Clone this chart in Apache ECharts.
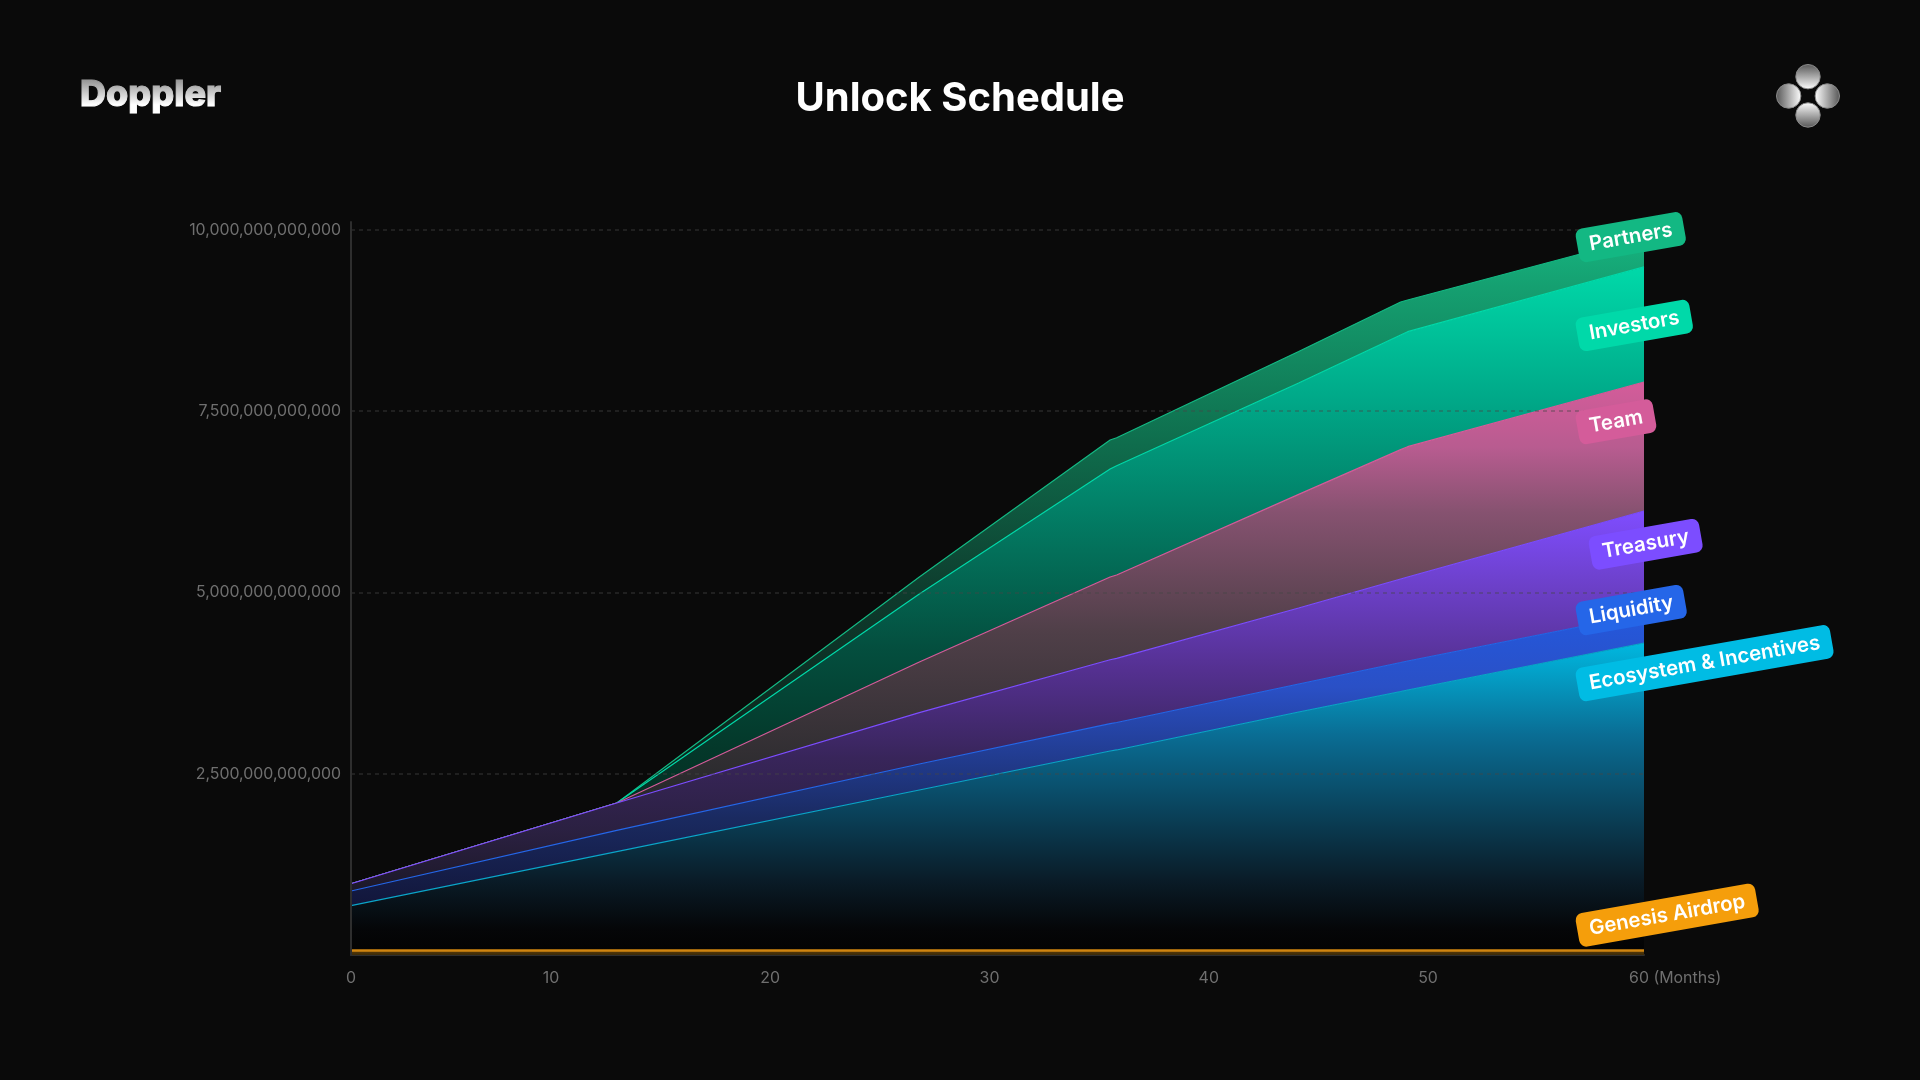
<!DOCTYPE html>
<html><head><meta charset="utf-8">
<style>html,body{margin:0;padding:0;background:#0a0a0a;width:100%;height:100%}#c{width:1920px;height:1080px}</style>
<script src="https://cdn.jsdelivr.net/npm/echarts@6/dist/echarts.min.js"></script>
</head><body><div id="c"></div>
<script>
const title = 'Unlock Schedule';
const brand = 'Doppler';
const xValues = [0.88, 13, 26.8, 35.5, 35.8, 44.1, 48.75, 49.07, 59.85];
const genesis = [0.062, 0.062, 0.062, 0.062, 0.062, 0.062, 0.062, 0.062, 0.062];
const ecosystem = [0.618, 1.364, 2.214, 2.752, 2.766, 3.29, 3.572, 3.593, 4.241];
const liquidity = [0.203, 0.293, 0.358, 0.378, 0.379, 0.386, 0.4, 0.4, 0.4];
const treasury = [0.1, 0.378, 0.708, 0.88, 0.884, 1.048, 1.152, 1.159, 1.421];
const team = [0, 0, 0.699, 1.142, 1.15, 1.567, 1.784, 1.797, 1.779];
const investors = [0, 0, 0.938, 1.489, 1.508, 1.537, 1.582, 1.586, 1.587];
const partners = [0, 0, 0.235, 0.4, 0.386, 0.433, 0.455, 0.437, 0.413];
const xTicks = [0.88, 10, 20, 30, 40, 50, 59.17];
const xTickLabels = ['0', '10', '20', '30', '40', '50', '60 (Months)'];
const yTicks = [2.5, 5, 7.5, 10];
const yTickLabels = ['2,500,000,000,000', '5,000,000,000,000', '7,500,000,000,000', '10,000,000,000,000'];

const FONT = 'Inter';
const grad = stops => ({type:'linear',x:0,y:0,x2:0,y2:1,colorStops:stops.map(s=>({offset:s[0],color:s[1]}))});
const defs = [
 {name:'Genesis Airdrop', data:genesis, color:'#F59E0B', line:'#D08510', width:2.5, off:[-66,-19],
  fill:grad([[0,'#5c3c08'],[1,'#3a2a0a']])},
 {name:'Ecosystem & Incentives', data:ecosystem, color:'#00BCE4', line:'#0BA5C9', width:1.2, off:[-66,43],
  fill:grad([[0,'#00B8E0'],[0.3,'#0a6d94'],[0.77,'#0a1c28'],[0.93,'#050608'],[1,'#030303']])},
 {name:'Liquidity', data:liquidity, color:'#2566E8', line:'#2566E8', width:1.2, off:[-66,6],
  fill:grad([[0,'#2458DC'],[0.25,'#2a50c6'],[0.7,'#1a2a60'],[1,'#12163a']])},
 {name:'Treasury', data:treasury, color:'#7C4DFF', line:'#7C4DFF', width:1.2, off:[-53,43.5],
  fill:grad([[0,'#7F4DFF'],[0.2,'#6c40c8'],[0.42,'#543090'],[0.65,'#38255a'],[0.85,'#2a2040'],[1,'#1c1828']])},
 {name:'Team', data:team, color:'#D45C9A', line:'#D45C9A', width:1.2, off:[-66,47],
  fill:grad([[0,'#D45C9A'],[0.13,'#b85c90'],[0.26,'#865270'],[0.5,'#4f3f48'],[0.79,'#2b2b2e'],[1,'#1c1c1e']])},
 {name:'Investors', data:investors, color:'#00D9A9', line:'#00D9A9', width:1.2, off:[-66,69],
  fill:grad([[0,'#00D9A9'],[0.216,'#00a888'],[0.46,'#03705a'],[0.62,'#044e3e'],[0.78,'#04382a'],[1,'#052018']])},
 {name:'Partners', data:partners, color:'#13B883', line:'#13B883', width:1.2, off:[-66,10],
  fill:grad([[0,'#16B37F'],[0.08,'#159f70'],[0.31,'#0f6f4e'],[0.56,'#0e3a2c'],[0.87,'#0a2018'],[1,'#0a1410']])}
];
const last = xValues.length - 1;
let cum = 0;
const series = defs.map((d,i)=>{
  cum += d.data[last];
  d.top = cum;
  return {type:'line',name:d.name,stack:'total',symbol:'none',showSymbol:false,z:12-i,
    encode:{x:1,y:0},
    data:xValues.map((x,k)=>[d.data[k],x]),
    lineStyle:{color:d.line,width:d.width},areaStyle:{color:d.fill,opacity:1},itemStyle:{color:d.color}};
});
series.push({type:'scatter',z:30,symbolSize:1,silent:true,itemStyle:{color:'transparent',opacity:1},
  data:defs.map(d=>({value:[xValues[last],d.top],label:{show:true,formatter:d.name,position:d.off,rotate:10,
    align:'left',verticalAlign:'middle',color:'#fff',fontFamily:FONT,fontSize:20.4,fontWeight:600,
    backgroundColor:d.color,borderRadius:7,padding:[8,12,6,12]}}))});
const circ = (cx,cy,x,y,x2,y2,a,b)=>({type:'circle',shape:{cx,cy,r:12.2},z:50,
  style:{fill:{type:'linear',x,y,x2,y2,colorStops:[{offset:0,color:a},{offset:1,color:b}]},stroke:'#8a8a8a',lineWidth:1}});
const chart = echarts.init(document.getElementById('c'),null,{renderer:'canvas',width:1920,height:1080});
chart.setOption({
  animation:false,backgroundColor:'#0a0a0a',
  grid:{left:351,top:222,width:1293,height:733},
  xAxis:{type:'value',min:xValues[0],max:xValues[last],
    axisLine:{show:true,lineStyle:{color:'#2e2e2e',width:2}},axisTick:{show:false},splitLine:{show:false},
    axisLabel:{customValues:xTicks,alignMaxLabel:'left',margin:15,color:'#6f6f6f',fontFamily:FONT,fontSize:15.9,
      formatter:v=>xTickLabels[xTicks.indexOf(v)]}},
  yAxis:{type:'value',min:0,max:10.11,z:20,
    axisLine:{show:true,lineStyle:{color:'#2e2e2e',width:2}},axisTick:{show:false},
    splitLine:{show:false},
    axisLabel:{customValues:yTicks,margin:10,color:'#6f6f6f',fontFamily:FONT,fontSize:15.9,padding:[3,0,0,0],
      formatter:v=>yTickLabels[yTicks.indexOf(v)]}},
  series:series.concat([{type:'line',z:20,silent:true,symbol:'none',data:[],
    markLine:{silent:true,symbol:'none',label:{show:false},z:20,
      lineStyle:{color:'rgba(70,70,70,0.5)',type:[4,4],width:1.5},
      data:yTicks.map(v=>({yAxis:v}))}}]),
  graphic:[
    {type:'text',x:960,y:98.5,z:50,style:{text:title,fill:'#fff',font:'700 40px Inter',textAlign:'center',textVerticalAlign:'middle'}},
    {type:'text',x:80,y:95,z:50,style:{text:brand,fill:'#fff',stroke:'#fff',lineWidth:1,font:'800 36px Inter',textAlign:'left',textVerticalAlign:'middle'}},
    {type:'rect',shape:{x:76,y:76,width:150,height:32},z:51,silent:true,
      style:{fill:{type:'linear',x:0,y:0,x2:0,y2:1,colorStops:[{offset:0,color:'rgba(10,10,10,0.5)'},{offset:0.9,color:'rgba(10,10,10,0)'}]}}},
    circ(1808,76.7,0,0,0,1,'#555','#fff'),
    circ(1808,115,0,0,0,1,'#fff','#555'),
    circ(1788.7,96,0,0,1,0,'#555','#fff'),
    circ(1827.3,96,0,0,1,0,'#fff','#555')
  ]
});
</script></body></html>
